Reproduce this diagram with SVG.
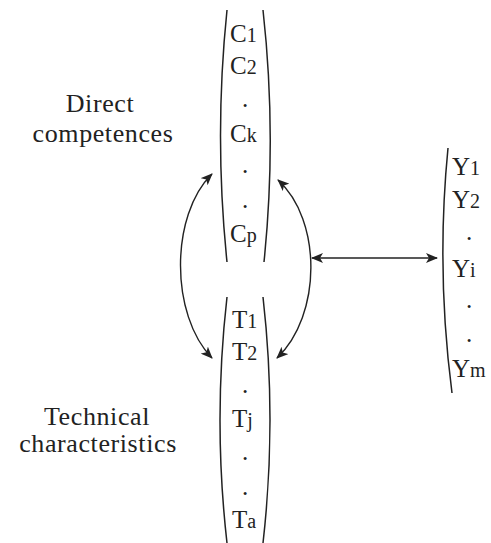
<svg xmlns="http://www.w3.org/2000/svg" width="491" height="543" viewBox="0 0 491 543">
<style>
text{font-family:"Times New Roman","Liberation Serif","Nimbus Roman","DejaVu Serif",Times,serif}
.lbl{font-size:26px;fill:#222;text-anchor:middle;letter-spacing:0.6px}
.v{font-size:25px;fill:#222}
.s{font-size:20px}
.paren{fill:none;stroke:#222;stroke-width:1.5}
.conn{fill:none;stroke:#222;stroke-width:1.4}
</style>
<defs>
<marker id="ah" viewBox="0 0 12 10" refX="11" refY="5" markerWidth="12" markerHeight="10" markerUnits="userSpaceOnUse" orient="auto-start-reverse">
<path d="M0,0 L12,5 L0,10 L3,5 z" fill="#222"/>
</marker>
</defs>
<rect width="491" height="543" fill="#fff"/>
<g id="labels">
<text class="lbl" x="100" y="112">Direct</text>
<text class="lbl" x="103" y="142">competences</text>
<text class="lbl" x="97" y="425">Technical</text>
<text class="lbl" x="98" y="452">characteristics</text>
</g>
<g id="C">
<path class="paren" d="M227,10 Q214,136 227,262"/>
<path class="paren" d="M263,10 Q277,136 264,262"/>
<text class="v" x="230" y="42">C<tspan class="s">1</tspan></text>
<text class="v" x="230" y="74">C<tspan class="s">2</tspan></text>
<text class="v" x="242" y="107">.</text>
<text class="v" x="230" y="142">C<tspan class="s">k</tspan></text>
<text class="v" x="242" y="173">.</text>
<text class="v" x="242" y="208">.</text>
<text class="v" x="230" y="242">C<tspan class="s">p</tspan></text>
</g>
<g id="T">
<path class="paren" d="M227,297 Q213,420 227,543"/>
<path class="paren" d="M263,297 Q277,420 263,543"/>
<text class="v" x="232" y="328">T<tspan class="s">1</tspan></text>
<text class="v" x="232" y="360">T<tspan class="s">2</tspan></text>
<text class="v" x="242" y="393">.</text>
<text class="v" x="232" y="427">T<tspan class="s">j</tspan></text>
<text class="v" x="242" y="460">.</text>
<text class="v" x="242" y="495">.</text>
<text class="v" x="232" y="528">T<tspan class="s">a</tspan></text>
</g>
<g id="Y">
<path class="paren" d="M448,148 Q436,270 452,393"/>
<text class="v" x="452" y="175">Y<tspan class="s">1</tspan></text>
<text class="v" x="452" y="208">Y<tspan class="s">2</tspan></text>
<text class="v" x="466" y="240">.</text>
<text class="v" x="452" y="277">Y<tspan class="s">i</tspan></text>
<text class="v" x="466" y="308">.</text>
<text class="v" x="466" y="342">.</text>
<text class="v" x="452" y="377">Y<tspan class="s">m</tspan></text>
</g>
<g id="connectors">
<path class="conn" d="M212,174 C170,215 170,315 212,358" marker-start="url(#ah)" marker-end="url(#ah)"/>
<path class="conn" d="M278,180 C322,220 322,315 277,358" marker-start="url(#ah)" marker-end="url(#ah)"/>
<path class="conn" d="M312,258 L437,258" marker-start="url(#ah)" marker-end="url(#ah)"/>
</g>
</svg>
